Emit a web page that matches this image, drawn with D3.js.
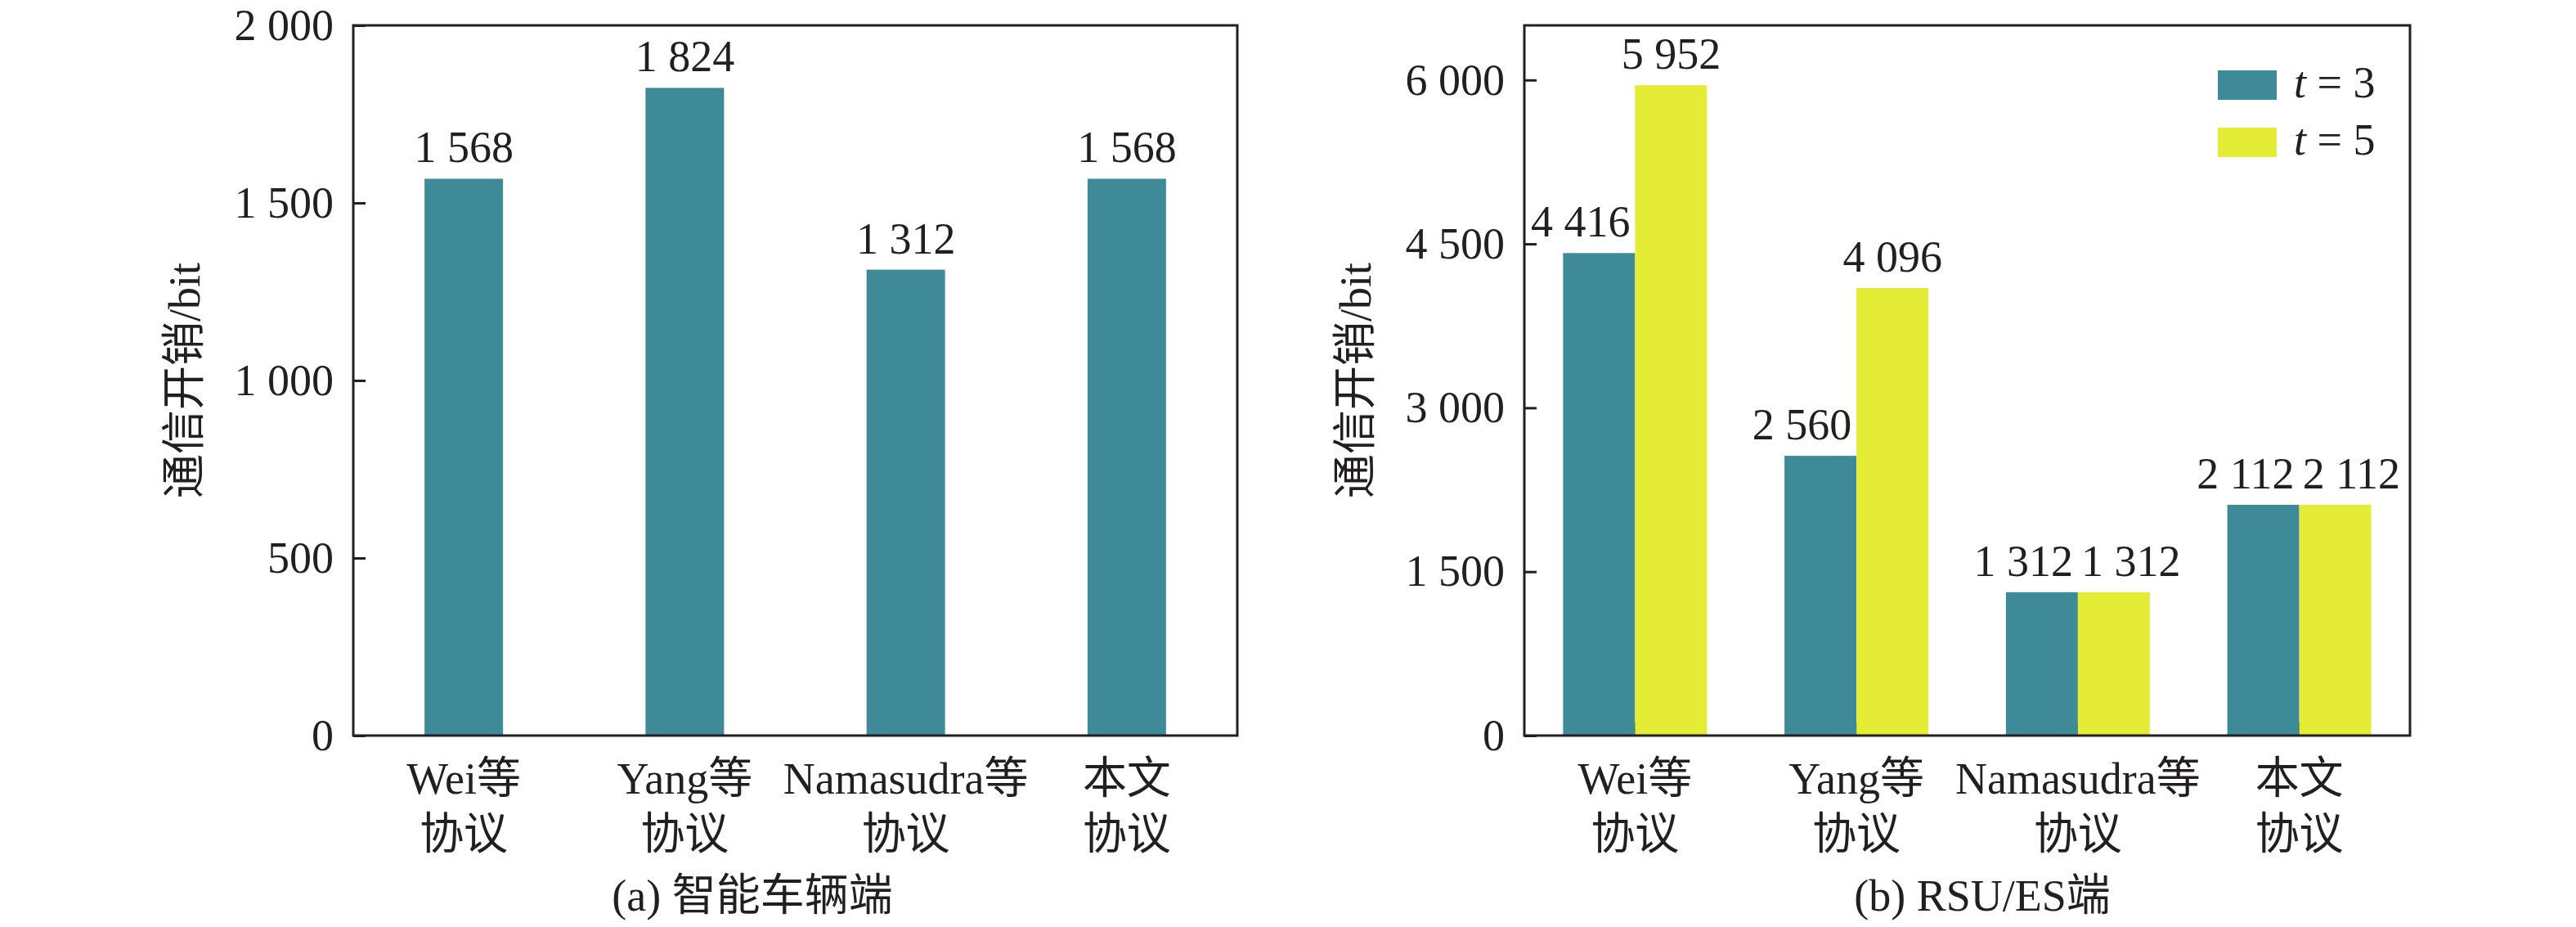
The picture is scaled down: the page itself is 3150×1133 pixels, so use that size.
<!DOCTYPE html>
<html>
<head>
<meta charset="utf-8">
<script src="https://cdn.jsdelivr.net/npm/d3@7"></script>
<style>
  body { margin: 0; background: #fff; }
  text { font-family: "Liberation Serif", "Noto Sans CJK SC", serif; fill: #231f20; }
</style>
</head>
<body>
<div id="chart-area"></div>
<script>
// data
const categories = ["Wei等|协议", "Yang等|协议", "Namasudra等|协议", "本文|协议"]
const vehicleCost = [1568, 1824, 1312, 1568]
const rsuCostT3 = [4416, 2560, 1312, 2112]
const rsuCostT5 = [5952, 4096, 1312, 2112]
const seriesNames = ["t = 3", "t = 5"]
const leftTicks = [0, 500, 1000, 1500, 2000]
const rightTicks = [0, 1500, 3000, 4500, 6000]
const captions = ["(a) 智能车辆端", "(b) RSU/ES端"]
const yTitle = "通信开销/bit"

const WIDTH = 3150
const HEIGHT = 1133
const TOP = 31, BOTTOM = 899
const COLORS = ["#3e8a98", "#e5ec36"]
const FS = 54

const locale = d3.formatLocale({ decimal: ".", thousands: " ", grouping: [3], currency: ["", ""] })
const fmt = locale.format(",d")

const svg = d3.select("#chart-area")
	.append("svg")
	.attr("width", WIDTH)
	.attr("height", HEIGHT)

function panel(left, right, yMax, ticks) {
	const g = svg.append("g")

	const x = d3.scalePoint()
		.domain(categories)
		.range([left, right])
		.padding(0.5)

	const y = d3.scaleLinear()
		.domain([0, yMax])
		.range([BOTTOM, TOP])

	const yAxis = d3.axisLeft(y)
		.tickValues(ticks)
		.tickSize(-15)
		.tickPadding(24)
		.tickFormat(fmt)

	const yg = g.append("g")
		.attr("transform", `translate(${left},0)`)
		.call(yAxis)
	yg.select(".domain").remove()
	yg.selectAll("line").attr("stroke", "#231f20").attr("stroke-width", 3)
	yg.selectAll("text").attr("font-size", FS).attr("fill", "#231f20")
		.attr("font-family", "Liberation Serif, serif")

	const xAxis = d3.axisBottom(x)
		.tickSize(-16)
		.tickFormat("")

	const xg = g.append("g")
		.attr("transform", `translate(0,${BOTTOM})`)
		.call(xAxis)
	xg.select(".domain").remove()
	xg.selectAll("line").attr("stroke", "#231f20").attr("stroke-width", 3)

	// two-line category labels
	categories.forEach(c => {
		const parts = c.split("|")
		const t = g.append("text")
			.attr("text-anchor", "middle")
			.attr("font-size", FS)
		t.append("tspan").attr("x", x(c)).attr("y", BOTTOM + 71).text(parts[0])
		t.append("tspan").attr("x", x(c)).attr("y", BOTTOM + 139).text(parts[1])
	})

	// y title
	g.append("text")
		.attr("transform", `translate(${left - 188},${(TOP + BOTTOM) / 2}) rotate(-90)`)
		.attr("text-anchor", "middle")
		.attr("font-size", FS)
		.text(yTitle)

	return { g, x, y }
}

// (a) vehicle side
const a = panel(432, 1513, 2000, leftTicks)
const barW = 96

a.g.selectAll("rect.bar")
	.data(vehicleCost)
	.enter()
	.append("rect")
	.attr("class", "bar")
	.attr("x", (d, i) => a.x(categories[i]) - barW / 2)
	.attr("y", d => a.y(d))
	.attr("width", barW)
	.attr("height", d => a.y(0) - a.y(d))
	.attr("fill", COLORS[0])

a.g.selectAll("text.val")
	.data(vehicleCost)
	.enter()
	.append("text")
	.attr("class", "val")
	.attr("x", (d, i) => a.x(categories[i]))
	.attr("y", d => a.y(d) - 20)
	.attr("text-anchor", "middle")
	.attr("font-size", FS)
	.text(fmt)

// (b) RSU/ES side
const b = panel(1864, 2947, 6500, rightTicks)
const groupW = 88
const rows = categories.map((c, i) => ({ c, v3: rsuCostT3[i], v5: rsuCostT5[i] }))

b.g.selectAll("rect.t3")
	.data(rows)
	.enter()
	.append("rect")
	.attr("x", d => b.x(d.c) - groupW)
	.attr("y", d => b.y(d.v3))
	.attr("width", groupW)
	.attr("height", d => b.y(0) - b.y(d.v3))
	.attr("fill", COLORS[0])

b.g.selectAll("rect.t5")
	.data(rows)
	.enter()
	.append("rect")
	.attr("x", d => b.x(d.c))
	.attr("y", d => b.y(d.v5))
	.attr("width", groupW)
	.attr("height", d => b.y(0) - b.y(d.v5))
	.attr("fill", COLORS[1])

// t=3 labels sit flush with the right of their bar, t=5 labels move out when they'd collide
b.g.selectAll("text.v3")
	.data(rows)
	.enter()
	.append("text")
	.attr("x", d => b.x(d.c) - 6)
	.attr("y", d => b.y(d.v3) - 20)
	.attr("text-anchor", "end")
	.attr("font-size", FS)
	.text(d => fmt(d.v3))

b.g.selectAll("text.v5")
	.data(rows)
	.enter()
	.append("text")
	.attr("x", d => d.v5 === d.v3 ? b.x(d.c) + 4 : b.x(d.c) + groupW / 2)
	.attr("y", d => b.y(d.v5) - 20)
	.attr("text-anchor", d => d.v5 === d.v3 ? "start" : "middle")
	.attr("font-size", FS)
	.text(d => fmt(d.v5))

// legend
const legend = b.g.append("g")
seriesNames.forEach((name, i) => {
	legend.append("rect")
		.attr("x", 2712)
		.attr("y", 86 + i * 70)
		.attr("width", 72)
		.attr("height", 36)
		.attr("fill", COLORS[i])
	const t = legend.append("text")
		.attr("x", 2805)
		.attr("y", 119 + i * 70)
		.attr("font-size", FS)
	const parts = name.split(" = ")
	t.append("tspan").attr("font-style", "italic").text(parts[0])
	t.append("tspan").text(" = " + parts[1])
})

// frames drawn last so they sit on top of the bars
;[[432, 1513], [1864, 2947]].forEach(([l, r]) => {
	svg.append("rect")
		.attr("x", l)
		.attr("y", TOP)
		.attr("width", r - l)
		.attr("height", BOTTOM - TOP)
		.attr("fill", "none")
		.attr("stroke", "#231f20")
		.attr("stroke-width", 3)
})

// captions
svg.append("text")
	.attr("x", 920)
	.attr("y", 1113)
	.attr("text-anchor", "middle")
	.attr("font-size", FS)
	.text(captions[0])

svg.append("text")
	.attr("x", 2424)
	.attr("y", 1113)
	.attr("text-anchor", "middle")
	.attr("font-size", FS)
	.text(captions[1])
</script>
</body>
</html>
